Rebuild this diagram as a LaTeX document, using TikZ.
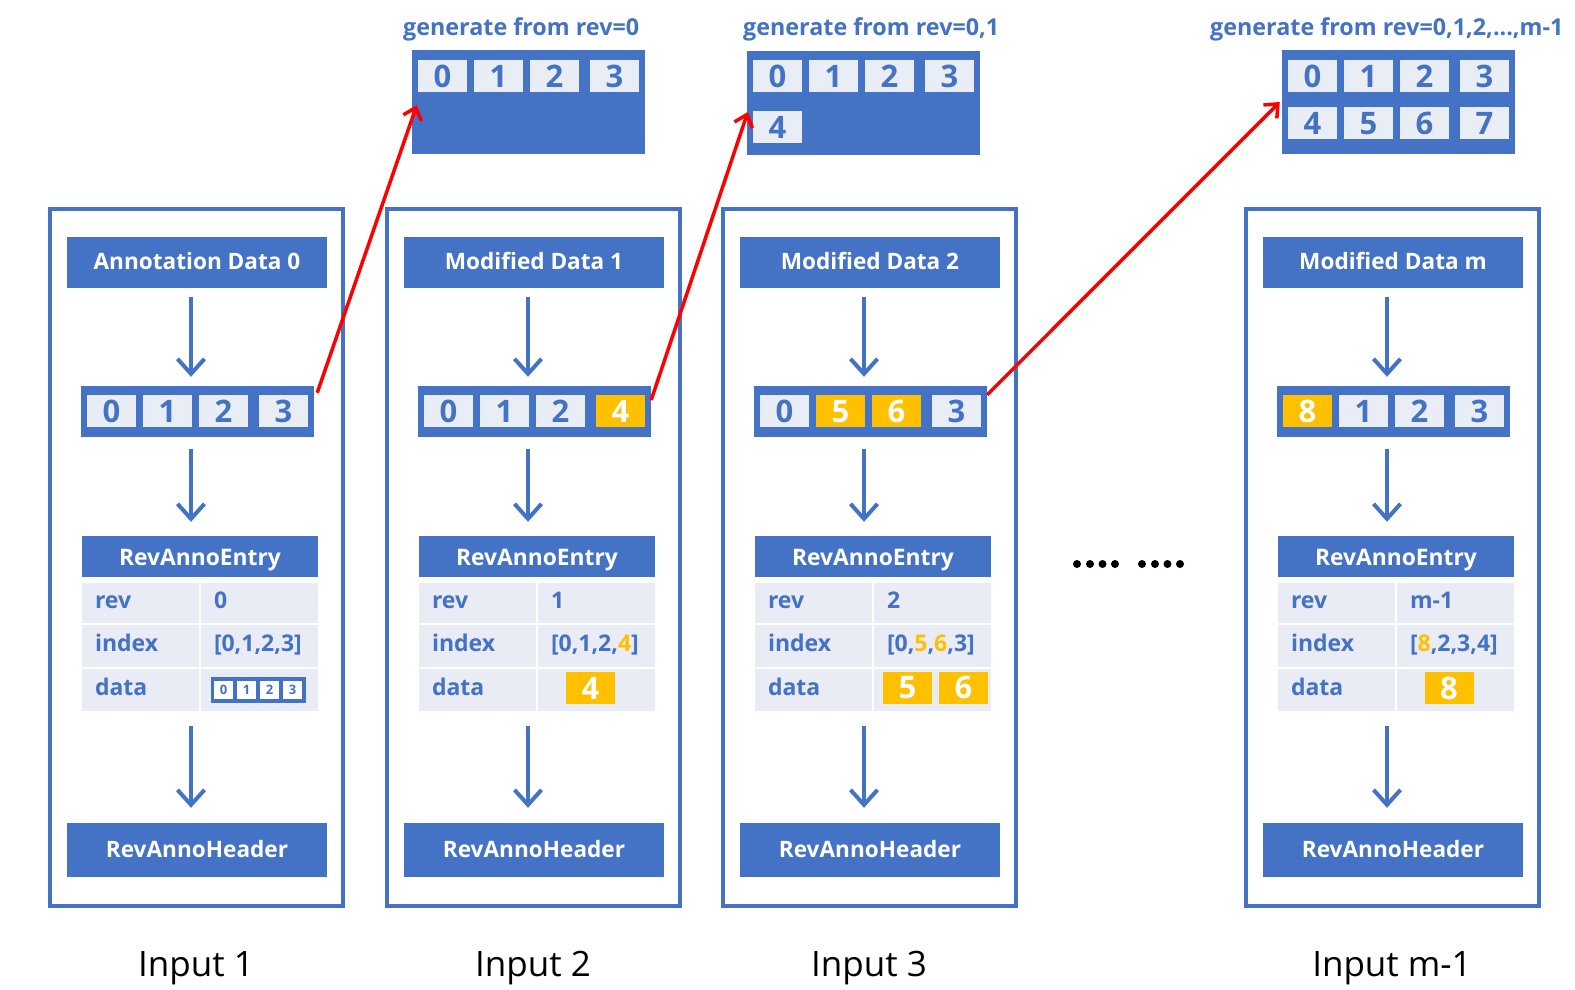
\documentclass[tikz,border=0pt]{standalone}
\usepackage{fontspec}
\setmainfont{Open Sans}
\usetikzlibrary{arrows.meta,calc}
\definecolor{mblue}{RGB}{68,114,196}
\definecolor{mlight}{RGB}{233,237,246}
\definecolor{mtab}{RGB}{233,235,245}
\definecolor{morange}{RGB}{255,192,0}
\tikzset{
  outerbox/.style={draw=mblue, line width=4pt, minimum width=293pt, minimum height=697.5pt, inner sep=0pt},
  hdr/.style={fill=mblue, text=white, font=\bfseries\fontsize{22.6}{26}\selectfont, minimum width=260pt, minimum height=51pt, inner sep=0pt, text height=14.5pt, text depth=0pt},
  ehdr/.style={fill=mblue, text=white, font=\bfseries\fontsize{22.8}{26}\selectfont, minimum width=236pt, minimum height=41pt, inner sep=0pt, text height=17pt, text depth=0pt},
  arr/.style={fill=mblue, minimum width=233pt, minimum height=51pt, inner sep=0pt},
  topbox/.style={fill=mblue, minimum width=233pt, minimum height=104pt, inner sep=0pt},
  cellL/.style={fill=mlight, text=mblue, font=\bfseries\fontsize{31}{31}\selectfont, minimum width=49pt, minimum height=32pt, inner sep=0pt, text height=22pt, text depth=0pt},
  tcell/.style={fill=mtab, text=mblue, font=\bfseries\fontsize{23}{27}\selectfont, text width=91pt, inner xsep=13pt, inner ysep=0pt, align=left, text height=11pt, text depth=0pt},
  sarr/.style={fill=mblue, minimum width=95pt, minimum height=26pt, inner sep=0pt},
  scell/.style={fill=white, text=mblue, font=\bfseries\fontsize{13}{13}\selectfont, minimum width=19pt, minimum height=18pt, inner sep=0pt, text height=9pt, text depth=0pt},
  toplabel/.style={anchor=base west, text=mblue, font=\bfseries\fontsize{23.3}{27}\selectfont, inner sep=0pt},
  inlabel/.style={anchor=base, text=black, font=\fontsize{35}{40}\selectfont, inner sep=0pt},
  barrow/.style={draw=mblue, line width=4pt, -{Straight Barb[length=15pt,width=27pt]}},
  rarrow/.style={draw=red, line width=3.5pt, -{Straight Barb[length=11pt,width=19pt]}}
}
\newcommand\drawcol[8]{%
\begin{scope}[xshift=#2pt]
  \node[outerbox] (ob#1) at (196.5,557.25) {};
  \node[hdr] (hd#1) at (197,262.5) {#3};
  \node[arr] (ar#1) at (197.5,411.5) {};
  \foreach \t/\o/\f/\c [count=\i] in {#4} \node[cellL, fill=\f, text=\c] (ar#1c\i) at (81+\o,411) {\t};
  \node[ehdr] (eh#1) at (200,556.5) {RevAnnoEntry};
  \node[tcell, minimum height=40pt] (rl#1) at (140.5,603) {rev};
  \node[tcell, minimum height=40pt] (rr#1) at (259.5,603) {#5};
  \node[tcell, minimum height=42pt] (il#1) at (140.5,646) {index};
  \node[tcell, minimum height=42pt] (ir#1) at (259.5,646) {#6};
  \node[tcell, minimum height=42pt] (dl#1) at (140.5,690) {data};
  \node[tcell, minimum height=42pt] (dr#1) at (259.5,690) {};
  #7
  \node[hdr, minimum height=54pt] (rh#1) at (197,850) {RevAnnoHeader};
  \node[inlabel] (in#1) at (196,976) {#8};
  \draw[barrow] ($(hd#1.south)+(-6,9)$) -- ($(ar#1.north)+(-6.5,-9)$);
  \draw[barrow] ($(ar#1.south)+(-6.5,12)$) -- ($(eh#1.north)+(-9,-14)$);
  \draw[barrow] ($(dl#1.south -| hd#1.south)+(-6,15)$) -- ($(rh#1.north)+(-6,-15)$);
\end{scope}}
\begin{document}
\begin{tikzpicture}[x=1pt,y=-1pt]
\useasboundingbox (0,0) rectangle (1575,989);
\fill[white] (0,0) rectangle (1575,989);

% top generated arrays
\node[toplabel] (gl1) at (403,35) {generate from rev=0};
\node[topbox] (tb1) at (528.5,102) {};
\foreach \t/\o [count=\i] in {0/30.5,1/86.5,2/142.5,3/202.5} \node[cellL] (tb1c\i) at (412+\o,76) {\t};

\node[toplabel] (gl2) at (743,35) {generate from rev=0,1};
\node[topbox] (tb2) at (863.5,102.5) {};
\foreach \t/\o [count=\i] in {0/30.5,1/86.5,2/142.5,3/202.5} \node[cellL] (tb2c\i) at (747+\o,76) {\t};
\node[cellL] (tb2c5) at (747+30.5,127) {4};

\node[toplabel] (gl4) at (1210,35) {generate from rev=0,1,2,...,m-1};
\node[topbox] (tb4) at (1398.5,102) {};
\foreach \t/\o [count=\i] in {0/30.5,1/86.5,2/142.5,3/202.5} \node[cellL] (tb4c\i) at (1282+\o,76) {\t};
\foreach \t/\o [count=\i] in {4/30.5,5/86.5,6/142.5,7/202.5} \node[cellL] (tb4d\i) at (1282+\o,123) {\t};

% columns
\drawcol{1}{0}{Annotation Data 0}{0/30.5/mlight/mblue,1/86.5/mlight/mblue,2/142.5/mlight/mblue,3/202.5/mlight/mblue}{0}{{[}0,1,2,3]}{%
  \node[sarr] (sa1) at (258.5,690) {};
  \foreach \t/\o [count=\i] in {0/223.5,1/246.5,2/269.5,3/292.5} \node[scell] (sa1c\i) at (\o,690) {\t};
}{Input 1}

\drawcol{2}{337}{Modified Data 1}{0/30.5/mlight/mblue,1/86.5/mlight/mblue,2/142.5/mlight/mblue,4/202.5/morange/white}{1}{{[}0,1,2,\textcolor{morange}{4}]}{%
  \node[cellL, fill=morange, text=white] (dd2) at (253.5,688) {4};
}{Input 2}

\drawcol{3}{673}{Modified Data 2}{0/30.5/mlight/mblue,5/86.5/morange/white,6/142.5/morange/white,3/202.5/mlight/mblue}{2}{{[}0,\textcolor{morange}{5},\textcolor{morange}{6},3]}{%
  \node[cellL, fill=morange, text=white] (dd3a) at (234.5,687.5) {5};
  \node[cellL, fill=morange, text=white] (dd3b) at (290.5,687.5) {6};
}{Input 3}

\drawcol{4}{1196}{Modified Data m}{8/30.5/morange/white,1/86.5/mlight/mblue,2/142.5/mlight/mblue,3/202.5/mlight/mblue}{m-1}{{[}\textcolor{morange}{8},2,3,4]}{%
  \node[cellL, fill=morange, text=white] (dd4) at (253,688) {8};
}{Input m-1}

% red arrows
\draw[rarrow] ($(ar1.north east)+(3,7)$) -- ($(tb1.west)+(5,3)$);
\draw[rarrow] ($(ar2.east)+(0,-11.5)$) -- ($(tb2.west)+(1,9.5)$);
\draw[rarrow] ($(ar3.north east)+(0,9)$) -- ($(tb4.west)+(-2,0)$);

% ellipsis dots
\foreach \x in {1077,1090,1102.5,1115,1142,1155,1167.5,1180} \fill (\x,564) circle[radius=4pt];
\end{tikzpicture}
\end{document}
